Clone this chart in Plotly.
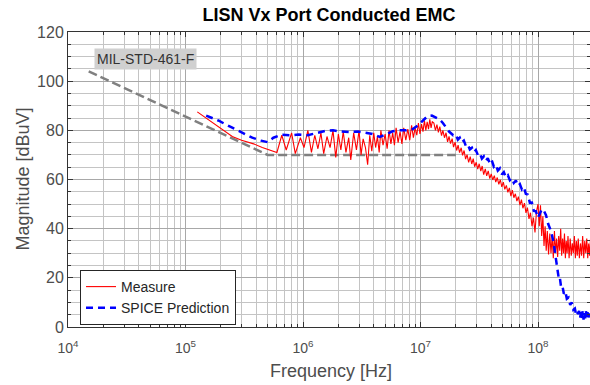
import plotly.graph_objects as go

# MIL-STD-461F CE102 limit (frequency in MHz, level in dBuV)
limit_f_mhz = [0.015, 0.5, 20.0]
limit_dbuv = [104.0, 70.0, 70.0]

# Measured conducted emissions on the LISN Vx port
measure_f_mhz = [
    0.126, 0.16, 0.2, 0.25, 0.3, 0.38, 0.45, 0.55,
    0.6, 0.66, 0.72, 0.8, 0.86, 0.95, 1.02, 1.1, 1.18, 1.26, 1.34, 1.42,
    1.5, 1.6, 1.7, 1.8, 1.9, 2.0, 2.1, 2.2, 2.32, 2.45, 2.55, 2.7, 2.85,
    3.0, 3.12, 3.25, 3.4, 3.55, 3.7, 3.85, 4.0, 4.15, 4.3, 4.45, 4.6, 4.8,
    5.0, 5.2, 5.4, 5.6, 5.8, 6.0, 6.2, 6.45, 6.7, 6.95, 7.2, 7.5, 7.8, 8.1,
    8.4, 8.7, 9.0, 9.3, 9.6, 9.9, 10.2, 10.5, 10.8, 11.1, 11.4, 11.7, 12.0,
    12.3, 12.6,
    13.0, 13.4, 13.8, 14.2, 14.6, 15.1, 15.5, 16.0, 16.5, 17.0, 17.5, 18.0,
    18.6, 19.1, 19.7, 20.3, 20.9, 21.5, 22.2, 22.8, 23.5, 24.2, 24.9, 25.7,
    26.5, 27.3, 28.1, 28.9, 29.8, 30.7, 31.6, 32.6, 33.5, 34.5, 35.6, 36.6,
    37.7, 38.9, 40.0, 41.2, 42.5, 43.7, 45.0, 46.4, 47.8, 49.2, 50.7, 52.2,
    53.8, 55.4, 57.1, 58.8, 60.5, 62.3, 64.2, 66.1, 68.1, 70.2, 72.3, 74.4,
    76.7, 79.0, 81.3, 83.8, 86.3, 88.9, 91.5, 94.3, 97.1, 100.0,
    102.5, 105.0, 107.5, 110.0, 112.5, 115.0, 117.5, 120.0, 123.0, 126.0,
    129.0, 132.0, 135.0, 138.0, 141.0, 144.0, 147.0, 150.0, 153.0, 156.0,
    159.0, 162.0, 165.0, 168.0, 171.0, 174.0, 177.0, 180.0, 184.0, 188.0,
    192.0, 196.0, 200.0, 204.0, 208.0, 212.0, 216.0, 220.0, 225.0, 230.0,
    235.0, 240.0, 245.0, 250.0, 255.0, 260.0, 265.0, 270.0, 275.0, 280.0,
    285.0,
]
measure_dbuv = [
    87.5, 84.0, 80.5, 77.5, 76.0, 74.5, 73.0, 71.5,
    71.0, 78.0, 72.0, 79.0, 70.5, 77.0, 73.0, 80.0, 71.0, 78.0, 72.5, 79.0,
    70.5, 77.5, 73.0, 80.0, 69.0, 78.5, 72.0, 79.5, 71.0, 77.0, 68.0, 79.0, 72.0,
    80.0, 70.0, 76.5, 73.0, 66.0, 78.0, 71.5, 79.0, 73.0, 77.5, 71.0, 80.0, 74.0,
    78.5, 72.5, 80.0, 74.5, 79.0, 74.0, 81.0, 75.0, 79.5, 74.5, 81.0, 76.0, 80.5, 76.0,
    82.0, 77.0, 81.0, 78.0, 83.0, 78.5, 82.5, 79.5, 84.0, 80.0, 83.5, 80.5, 84.5,
    81.0, 83.5,
    83.0, 80.0, 82.3, 79.2, 81.5, 77.8, 80.0, 77.0, 79.0, 75.3, 77.5, 74.6,
    76.6, 73.2, 75.2, 71.8, 74.0, 70.9, 72.9, 69.8, 71.8, 68.3, 70.1, 67.0,
    69.3, 66.3, 68.5, 65.2, 67.0, 64.2, 66.4, 63.4, 65.5, 62.0, 64.3, 61.5,
    63.5, 60.4, 62.3, 59.8, 61.6, 58.9, 60.8, 58.0, 59.9, 57.0, 58.9, 56.0,
    57.6, 54.8, 56.6, 53.2, 55.7, 52.6, 54.2, 51.2, 53.0, 49.6, 51.8, 48.3,
    50.4, 46.4, 48.6, 44.0, 46.5, 41.0, 44.5, 38.5, 47.0, 50.0,
    41.0, 49.5, 37.0, 45.0, 33.0, 41.0, 31.0, 39.0, 29.5, 38.0,
    30.0, 37.0, 28.0, 39.0, 30.0, 36.0, 28.5, 37.0, 31.0, 40.0,
    29.0, 36.0, 30.0, 38.0, 28.0, 35.0, 30.0, 37.0, 28.0, 36.0,
    29.0, 34.0, 30.0, 37.0, 28.0, 35.0, 29.0, 36.0, 28.0, 34.0,
    29.0, 37.0, 28.0, 35.0, 30.0, 36.0, 28.0, 34.0, 29.0, 36.0,
    31.0,
]

# SPICE model prediction
spice_f_mhz = [
    0.15, 0.19, 0.24, 0.3, 0.37, 0.44, 0.5, 0.56, 0.65, 0.78, 0.92, 1.1,
    1.3, 1.55, 1.8, 2.1, 2.5, 2.9, 3.4, 3.9, 4.5, 5.1, 5.8, 6.6, 7.6, 8.6,
    9.5, 10.5, 11.5, 12.5, 13.5, 14.5, 15.5, 16.5, 17.5, 19.0,
    20.0, 20.8, 21.6, 22.5, 23.4, 24.3, 25.3, 26.3, 27.4, 28.5, 29.6, 30.8,
    32.0, 33.3, 34.6, 36.0, 37.4, 38.9, 40.5, 42.1, 43.8, 45.5, 47.4, 49.3,
    51.2, 53.3, 55.4, 57.6, 59.9, 62.3, 64.8, 67.4, 70.1, 72.9, 75.8, 78.8,
    82.0, 85.3, 88.7, 92.2, 95.9, 99.8,
    104.0, 108.0, 113.0, 117.0, 122.0, 129.0, 135.0, 141.0, 147.0, 150.0,
    153.0, 157.0, 161.0, 166.0, 171.0, 176.0, 182.0, 188.0, 194.0, 200.0,
    206.0, 212.0, 218.0, 224.0, 228.0, 232.0, 236.0, 240.0, 244.0, 248.0,
    252.0, 256.0, 260.0, 264.0, 268.0, 272.0, 276.0, 280.0, 285.0,
]
spice_dbuv = [
    86.0, 84.0, 81.5, 79.0, 77.0, 75.8, 75.2, 77.0, 78.2, 78.0, 78.3, 78.0,
    78.8, 79.8, 80.0, 79.5, 79.3, 79.5, 79.0, 78.5, 77.3, 78.5, 79.6, 80.0, 80.0, 80.5,
    82.0, 84.0, 85.8, 86.0, 85.2, 84.5, 83.0, 81.0, 79.5, 78.0,
    78.3, 76.2, 77.0, 75.1, 75.8, 73.7, 74.3, 72.2, 72.9, 71.1, 72.0, 69.9,
    70.6, 68.5, 69.4, 67.6, 68.7, 66.5, 67.7, 65.2, 66.0, 63.6, 64.5, 62.1,
    63.0, 60.9, 61.7, 59.7, 60.6, 58.6, 59.6, 57.4, 58.1, 56.0, 56.9, 54.2,
    53.8, 50.5, 50.6, 47.2, 47.1, 44.4,
    46.5, 48.0, 47.0, 45.5, 42.0, 39.0, 35.0, 29.0, 24.5, 20.0,
    20.5, 16.5, 17.0, 13.5, 14.5, 11.5, 12.0, 9.0, 10.0, 7.0,
    7.5, 4.5, 5.5, 6.5, 3.5, 6.0, 3.5, 6.5, 3.0, 6.0,
    3.5, 6.5, 3.5, 6.0, 3.0, 5.5, 3.5, 5.5, 4.0,
]

x_ticks = [1e4, 1e5, 1e6, 1e7, 1e8]
x_tick_text = ["10<sup>4</sup>", "10<sup>5</sup>", "10<sup>6</sup>",
               "10<sup>7</sup>", "10<sup>8</sup>"]
y_ticks = [0, 20, 40, 60, 80, 100, 120]

def hz(values_mhz):
    return [v * 1e6 for v in values_mhz]

font_family = "Liberation Sans, Arial, Helvetica, sans-serif"

fig = go.Figure()

fig.add_trace(go.Scatter(
    x=hz(limit_f_mhz), y=limit_dbuv, mode="lines", showlegend=False,
    line=dict(color="#808080", width=2.5, dash="9px,4px"),
    name="MIL-STD-461-F",
))
fig.add_trace(go.Scatter(
    x=hz(measure_f_mhz), y=measure_dbuv, mode="lines", name="Measure",
    line=dict(color="#ff0000", width=1.1),
))
fig.add_trace(go.Scatter(
    x=hz(spice_f_mhz), y=spice_dbuv, mode="lines", name="SPICE Prediction",
    line=dict(color="#0000ff", width=2.5, dash="7px,5px"),
))

axis_common = dict(
    showline=True, linecolor="#333333", linewidth=1, mirror="ticks",
    ticks="inside", ticklen=5, tickcolor="#333333",
    showgrid=True, gridcolor="#a8a8a8", gridwidth=1, zeroline=False,
)

fig.update_xaxes(
    type="log", range=[4, 8.4426],
    tickvals=x_ticks, ticktext=x_tick_text, ticklabelstandoff=8,
    tickfont=dict(family=font_family, size=14, color="#4d4d4d"),
    minor=dict(dtick="D1", showgrid=True, gridcolor="#c4c4c4",
               ticks="inside", ticklen=3, tickcolor="#333333"),
    **axis_common,
)
fig.update_yaxes(
    range=[0, 120], tickvals=y_ticks,
    tickfont=dict(family=font_family, size=16, color="#4d4d4d"),
    minor=dict(dtick=5, showgrid=True, gridcolor="#c4c4c4",
               ticks="inside", ticklen=3, tickcolor="#333333"),
    **axis_common,
)

fig.update_layout(
    width=590, height=385,
    margin=dict(l=68, r=0, t=32, b=58),
    paper_bgcolor="white", plot_bgcolor="white",
    font=dict(family=font_family),
    title=dict(
        text="<b>LISN Vx Port Conducted EMC</b>",
        font=dict(family=font_family, size=18, color="#000000"),
        x=0.5, xref="paper", xanchor="center",
        y=1 - 15 / 385, yref="container", yanchor="middle",
    ),
    legend=dict(
        x=0.023, y=(327 - 270) / 295, xanchor="left", yanchor="top",
        bgcolor="white", bordercolor="#262626", borderwidth=1,
        font=dict(family=font_family, size=14, color="#262626"),
        tracegroupgap=0,
    ),
    annotations=[
        dict(text="MIL-STD-461-F", xref="paper", yref="paper",
             x=0.149, y=0.907, xanchor="center", yanchor="middle",
             showarrow=False, bgcolor="#d0d0d0", borderpad=2,
             font=dict(family=font_family, size=14, color="#333333")),
        dict(text="Magnitude [dBuV]", xref="paper", yref="paper",
             x=(22 - 68) / 522, y=0.5, xanchor="center", yanchor="middle",
             textangle=-90, showarrow=False,
             font=dict(family=font_family, size=18, color="#4d4d4d")),
        dict(text="Frequency [Hz]", xref="paper", yref="paper",
             x=(331 - 68) / 522, y=(327 - 371) / 295,
             xanchor="center", yanchor="middle", showarrow=False,
             font=dict(family=font_family, size=18, color="#4d4d4d")),
    ],
)

fig.write_html("out.html")
